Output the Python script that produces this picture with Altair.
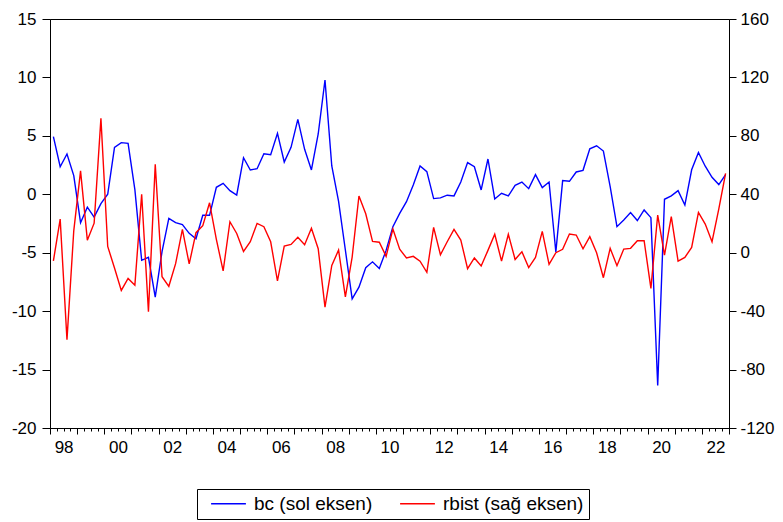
import altair as alt
import pandas as pd

years = list(range(1998, 2023))
quarters = [f"{y}Q{q}" for y in years for q in range(1, 5)]

bc = [4.93, 2.36, 3.45, 1.6, -2.43, -1.1, -1.95, -0.8, 0.0, 4.02,
      4.42, 4.36, 0.4, -5.65, -5.39, -8.8, -4.9, -2.06, -2.43, -2.6,
      -3.34, -3.8, -1.8, -1.8, 0.6, 0.94, 0.31, -0.06, 3.13, 2.08,
      2.19, 3.47, 3.39, 5.22, 2.76, 4.02, 6.41, 3.85, 2.08, 5.16,
      9.78, 2.42, -0.6, -4.77, -8.95, -7.95, -6.28, -5.78, -6.36, -4.8,
      -2.77, -1.63, -0.63, 0.8, 2.42, 1.94, -0.37, -0.31, -0.08, -0.14,
      1.05, 2.71, 2.36, 0.37, 3.02, -0.4, 0.09, -0.14, 0.77, 1.05,
      0.48, 1.68, 0.57, 1.05, -4.94, 1.17, 1.11, 1.91, 2.05, 3.89,
      4.15, 3.7, 0.65, -2.77, -2.2, -1.57, -2.25, -1.34, -2.0, -16.37,
      -0.43, -0.14, 0.31, -0.92, 2.1, 3.58, 2.4, 1.45, 0.83, 1.68]

rbist = [-5.6, 23, -59.5, 15, 56, 8.6, 20.2, 92, 4.3, -10.5,
         -25.8, -17.6, -22.2, 40, -40.4, 60.5, -16.4, -23, -7.5, 16,
         -7.7, 13.7, 18.5, 34.2, 9.2, -12.5, 21.2, 13.2, 0.9, 7.5,
         20.1, 17.8, 7.5, -19.2, 4.6, 5.7, 10.5, 5.5, 16.7, 2.7,
         -37.2, -8.7, 1.8, -30.3, -3, 38.8, 26.7, 7.7, 7.2, -2.5,
         16.2, 2.4, -3.6, -2.5, -5.8, -13.4, 17.4, -1.4, 7.5, 16.0,
         8.7, -10.9, -3.6, -9.1, 1.6, 12.6, -5.7, 12.6, -4.6, 0.7,
         -10.2, -3.2, 14.6, -8.0, 0.0, 2.3, 12.8, 12.1, 2.7, 11.0,
         0.0, -17.1, 3.0, -8.9, 2.5, 3.0, 8.2, 8.2, -24.4, 25.8,
         -1.6, 24.7, -5.7, -3.2, 3.6, 27.6, 19.6, 7.5, 30, 54.3]

series_names = ["bc (sol eksen)", "rbist (sağ eksen)"]
series_colors = ["#0000FF", "#FF0000"]
left_ticks = [-20, -15, -10, -5, 0, 5, 10, 15]
right_ticks = [-120, -80, -40, 0, 40, 80, 120, 160]

# time position of each quarter (middle of the quarter)
t = [int(q[:4]) + (int(q[-1]) - 1) / 4 + 0.125 for q in quarters]

df = pd.DataFrame({
    "quarter": quarters * 2,
    "t": t * 2,
    "value": bc + rbist,
    "series": [series_names[0]] * len(bc) + [series_names[1]] * len(rbist),
})

tick_vals = [1998 + k * 0.25 for k in range(101)]

x_enc = alt.X(
    "t:Q",
    title=None,
    scale=alt.Scale(domain=[1998, 2023], nice=False, zero=False),
    axis=alt.Axis(
        values=tick_vals,
        tickSize={"condition": {"test": "datum.value % 1 === 0", "value": 6}, "value": 3},
        labelExpr="datum.value % 2 === 0.5 ? slice('0' + (floor(datum.value) % 100), -2) : ''",
        labelOverlap=False,
        labelFlush=False,
        labelPadding=8,
        labelAlign="center",
        orient="bottom",
    ),
)

legend = alt.Legend(
    title=None,
    orient="none",
    legendX=147,
    legendY=470,
    direction="horizontal",
    symbolType="M-2.9,0L2.9,0",
    symbolSize=144,
    symbolOffset=17,
    symbolStrokeWidth=1.3,
    labelOffset=16,
    labelFontSize=19,
    labelFont="Liberation Sans",
    labelColor="black",
    strokeColor="black",
    fillColor="white",
    padding=5,
    columnPadding=18,
)

color_enc = alt.Color(
    "series:N",
    scale=alt.Scale(domain=series_names, range=series_colors),
    legend=legend,
)

base = alt.Chart(df)

left = base.transform_filter(alt.datum.series == series_names[0]).mark_line(
    strokeWidth=1.4
).encode(
    x=x_enc,
    y=alt.Y(
        "value:Q",
        title=None,
        scale=alt.Scale(domain=[-20, 15], nice=False, zero=False),
        axis=alt.Axis(values=left_ticks, orient="left", tickSize=8, labelPadding=6,
                      labelExpr="'' + datum.value"),
    ),
    color=color_enc,
)

right = base.transform_filter(alt.datum.series == series_names[1]).mark_line(
    strokeWidth=1.4
).encode(
    x=x_enc,
    y=alt.Y(
        "value:Q",
        title=None,
        scale=alt.Scale(domain=[-120, 160], nice=False, zero=False),
        axis=alt.Axis(values=right_ticks, orient="right", tickSize=7, labelPadding=4,
                      labelExpr="'' + datum.value"),
    ),
    color=color_enc,
)

chart = alt.layer(left, right).resolve_scale(y="independent").properties(
    width=679,
    height=409,
    padding={"left": 42, "top": 11, "right": 46, "bottom": 94},
    autosize=alt.AutoSizeParams(type="none"),
).configure_axis(
    grid=False,
    labelFont="Liberation Sans",
    labelFontSize=17,
    labelColor="black",
    domainColor="black",
    tickColor="black",
    domainWidth=1,
    tickWidth=1,
).configure_view(
    stroke="black",
    strokeWidth=1,
)

chart.save("out.html", embed_options={"renderer": "svg", "actions": False})
